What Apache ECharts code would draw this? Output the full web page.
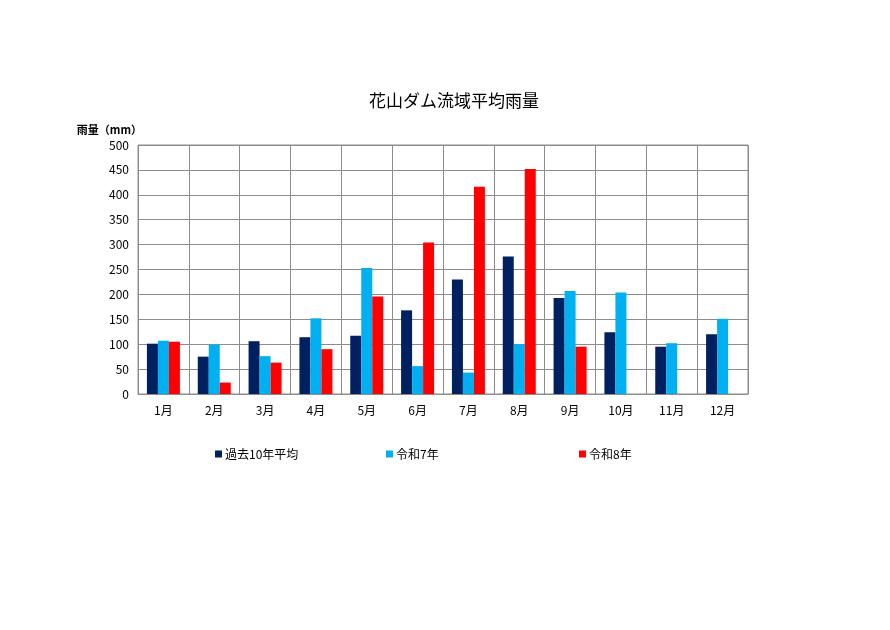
<!DOCTYPE html>
<html>
<head>
<meta charset="UTF-8">
<title>花山ダム流域平均雨量</title>
<script src="https://cdn.jsdelivr.net/npm/echarts@6/dist/echarts.min.js"></script>
<style>
  html, body { margin: 0; padding: 0; background: #fff; }
  #myChart { width: 890px; height: 630px; }
</style>
</head>
<body>
<div id="myChart"></div>
<script>
var months = ['1月', '2月', '3月', '4月', '5月', '6月', '7月', '8月', '9月', '10月', '11月', '12月'];
var avg10 = [101, 75, 106, 114, 117, 168, 230, 276, 193, 124, 95, 120];
var r7 = [107, 99, 76, 152, 253, 56, 43, 100, 207, 204, 102, 151];
var r8 = [105, 23, 63, 90, 196, 304, 416, 452, 95, null, null, null];
var seriesNames = ['過去10年平均', '令和7年', '令和8年'];
var colors = ['#002060', '#00B0F0', '#FF0000'];

var font = "'Liberation Sans Narrow', 'Noto Sans CJK JP', sans-serif";
var cjk = "'Noto Sans CJK JP', sans-serif";

var myChart = echarts.init(document.getElementById('myChart'));

function legendFor(i, left) {
  return {
    data: [seriesNames[i]],
    left: left,
    top: 443,
    icon: 'rect',
    itemWidth: 7,
    itemHeight: 7,
    itemGap: 3,
    textStyle: { fontFamily: cjk, fontSize: 12, color: '#000', padding: [0, 0, 0, -2] }
  };
}

var option = {
  backgroundColor: '#fff',
  animation: false,
  title: {
    text: '花山ダム流域平均雨量',
    left: 364,
    top: 87,
    textStyle: { fontFamily: cjk, fontSize: 17, fontWeight: 'normal', color: '#000' }
  },
  legend: [legendFor(0, 210), legendFor(1, 381), legendFor(2, 574)],
  grid: {
    left: 138,
    right: 142,
    top: 145,
    bottom: 236,
    show: true,
    borderColor: '#8c8c8c',
    borderWidth: 1
  },
  xAxis: {
    type: 'category',
    data: months,
    axisLine: { lineStyle: { color: '#8c8c8c' } },
    axisTick: { show: false },
    splitLine: { show: true, interval: 0, lineStyle: { color: '#8c8c8c' } },
    axisLabel: { fontFamily: font, fontSize: 12, color: '#000', margin: 10, interval: 0 }
  },
  yAxis: {
    type: 'value',
    min: 0,
    max: 500,
    interval: 50,
    name: '雨量（mm）',
    nameLocation: 'end',
    nameGap: 10,
    nameTextStyle: { fontFamily: cjk, fontSize: 11, fontWeight: 'bold', color: '#000', align: 'right', padding: [0, -4, 0, 0] },
    axisLine: { show: false },
    axisTick: { show: false },
    splitLine: { lineStyle: { color: '#8c8c8c' } },
    axisLabel: { fontFamily: font, fontSize: 12, color: '#000', margin: 9 }
  },
  series: [avg10, r7, r8].map(function(d, i) {
    return {
      name: seriesNames[i],
      type: 'bar',
      data: d,
      barWidth: 11,
      barGap: '0%',
      itemStyle: { color: colors[i] }
    };
  })
};

myChart.setOption(option);
</script>
</body>
</html>
